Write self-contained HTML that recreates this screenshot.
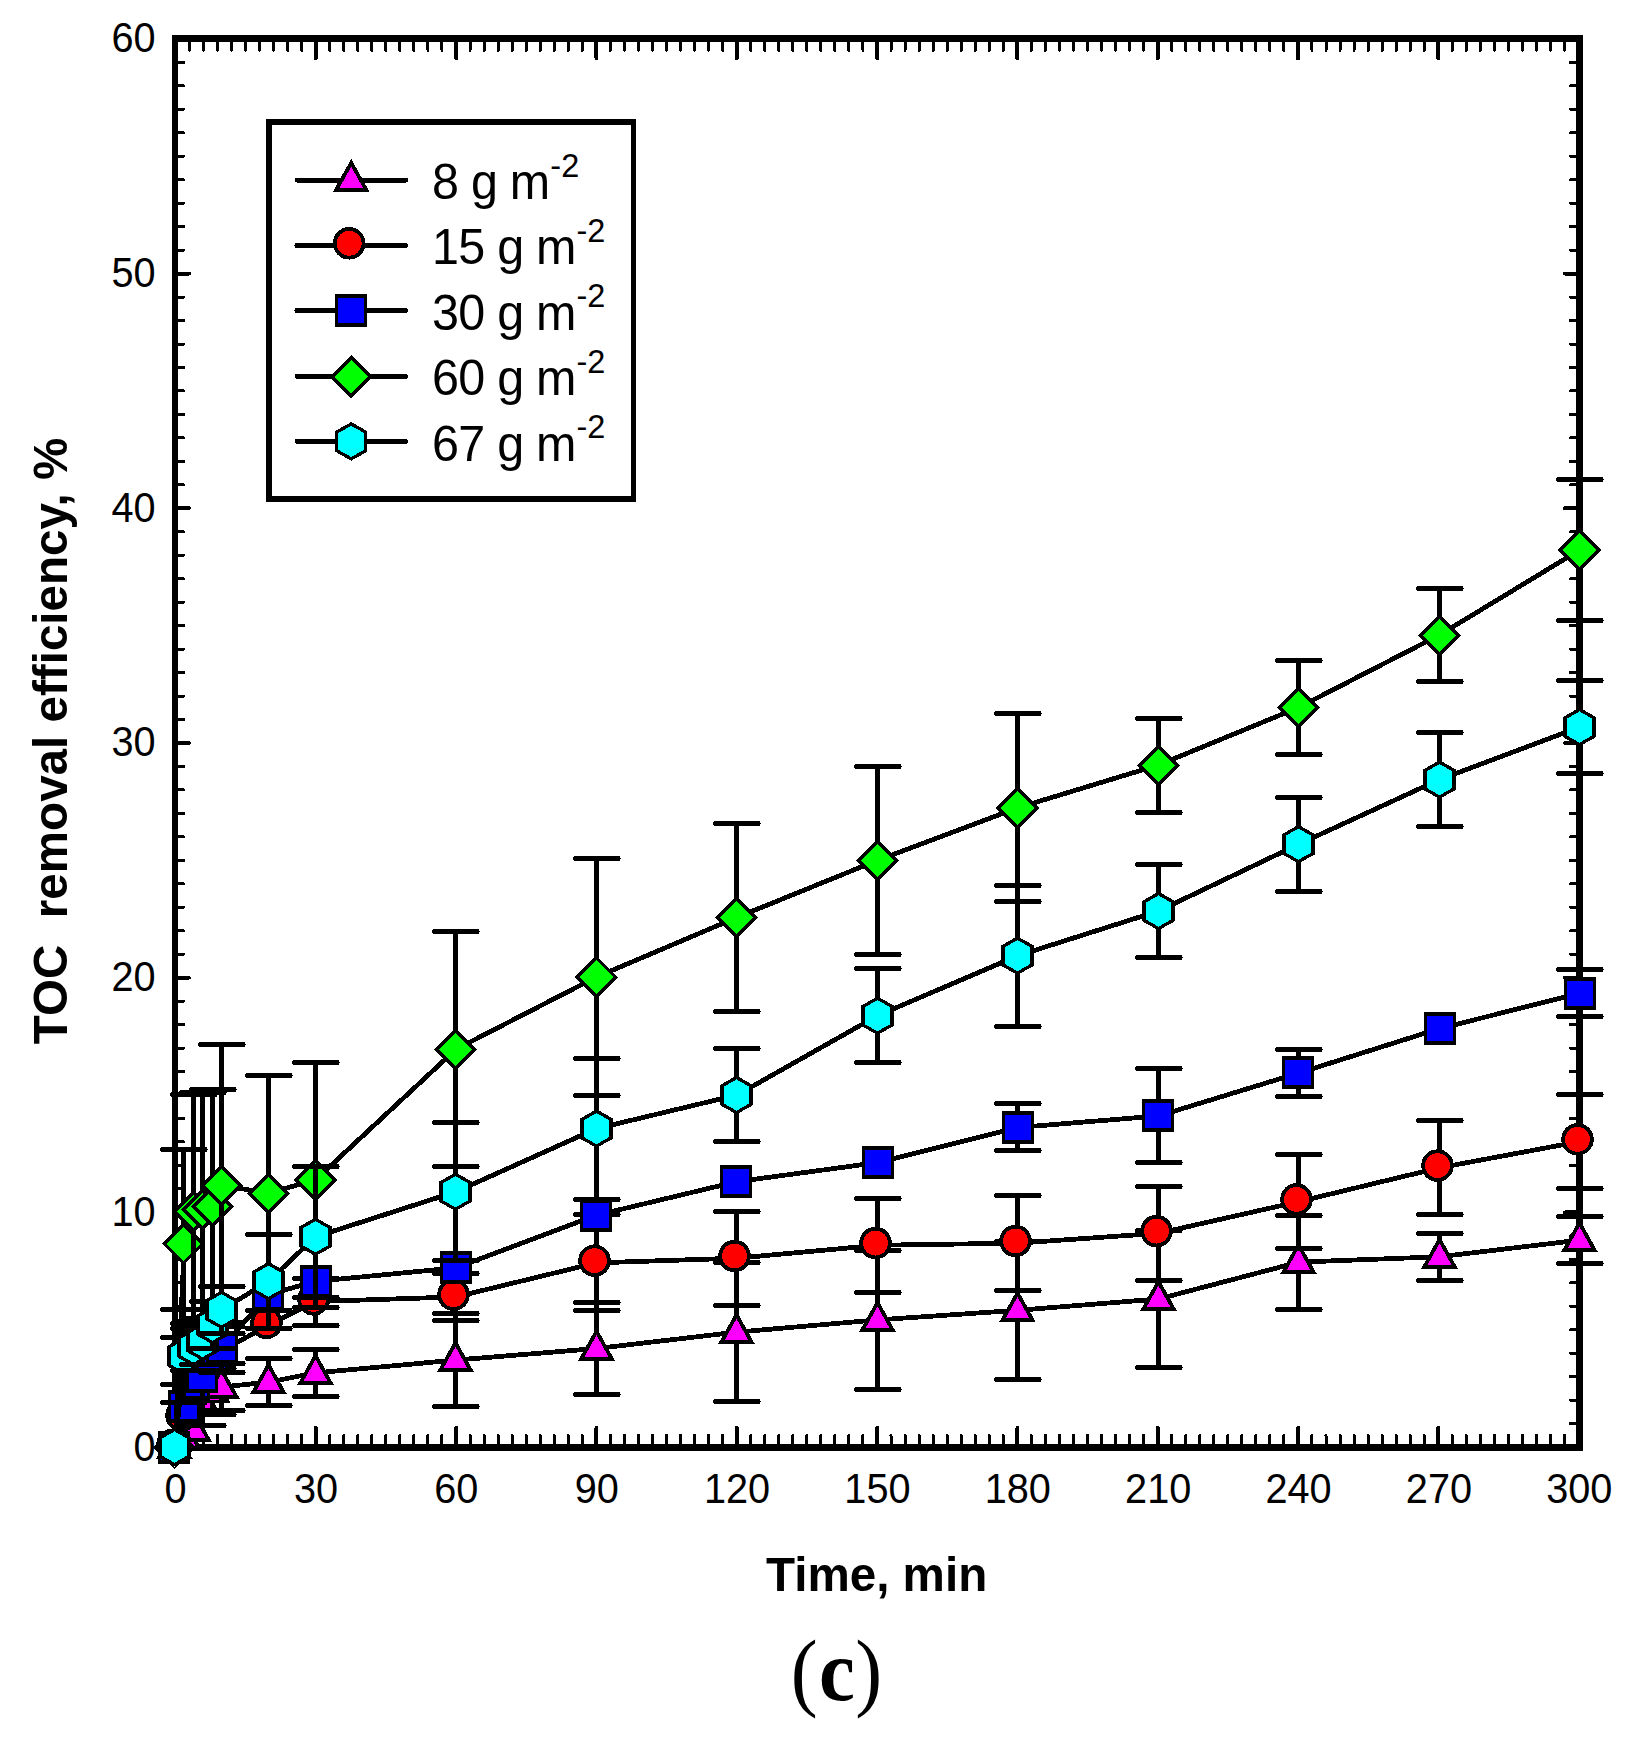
<!DOCTYPE html>
<html lang="en"><head><meta charset="utf-8"><title>TOC removal efficiency</title>
<style>html,body{margin:0;padding:0;background:#fff}body{width:1634px;height:1740px;overflow:hidden}svg{display:block}text{font-family:"Liberation Sans",Arial,Helvetica,sans-serif;fill:#000}.tk{font-size:39.7px}.ax{font-size:47.6px;font-weight:bold}.lg{font-size:48.5px;letter-spacing:-0.75px}.sup{font-size:32.5px;letter-spacing:0}.cap{font-family:"Liberation Serif","DejaVu Serif",serif}</style></head><body>
<svg width="1634" height="1740" viewBox="0 0 1634 1740" shape-rendering="crispEdges">
<rect width="1634" height="1740" fill="#fff"/>
<g fill="#000">
<rect x="172" y="35" width="6" height="1416"/>
<rect x="172" y="35" width="1411" height="7"/>
<rect x="1576" y="35" width="7" height="1416"/>
<rect x="172" y="1444" width="1411" height="7"/>
</g>
<g stroke="#000" stroke-linecap="round" fill="none"><path stroke-width="3" d="M189.4 1444V1435.5M189.4 42V50.3M203.43 1444V1435.5M203.43 42V50.3M217.47 1444V1435.5M217.47 42V50.3M231.5 1444V1435.5M231.5 42V50.3M245.53 1444V1435.5M245.53 42V50.3M259.56 1444V1435.5M259.56 42V50.3M273.6 1444V1435.5M273.6 42V50.3M287.63 1444V1435.5M287.63 42V50.3M301.66 1444V1435.5M301.66 42V50.3M329.72 1444V1435.5M329.72 42V50.3M343.76 1444V1435.5M343.76 42V50.3M357.79 1444V1435.5M357.79 42V50.3M371.82 1444V1435.5M371.82 42V50.3M385.85 1444V1435.5M385.85 42V50.3M399.89 1444V1435.5M399.89 42V50.3M413.92 1444V1435.5M413.92 42V50.3M427.95 1444V1435.5M427.95 42V50.3M441.98 1444V1435.5M441.98 42V50.3M470.05 1444V1435.5M470.05 42V50.3M484.08 1444V1435.5M484.08 42V50.3M498.11 1444V1435.5M498.11 42V50.3M512.14 1444V1435.5M512.14 42V50.3M526.17 1444V1435.5M526.17 42V50.3M540.21 1444V1435.5M540.21 42V50.3M554.24 1444V1435.5M554.24 42V50.3M568.27 1444V1435.5M568.27 42V50.3M582.3 1444V1435.5M582.3 42V50.3M610.37 1444V1435.5M610.37 42V50.3M624.4 1444V1435.5M624.4 42V50.3M638.43 1444V1435.5M638.43 42V50.3M652.46 1444V1435.5M652.46 42V50.3M666.5 1444V1435.5M666.5 42V50.3M680.53 1444V1435.5M680.53 42V50.3M694.56 1444V1435.5M694.56 42V50.3M708.59 1444V1435.5M708.59 42V50.3M722.63 1444V1435.5M722.63 42V50.3M750.69 1444V1435.5M750.69 42V50.3M764.72 1444V1435.5M764.72 42V50.3M778.75 1444V1435.5M778.75 42V50.3M792.79 1444V1435.5M792.79 42V50.3M806.82 1444V1435.5M806.82 42V50.3M820.85 1444V1435.5M820.85 42V50.3M834.88 1444V1435.5M834.88 42V50.3M848.92 1444V1435.5M848.92 42V50.3M862.95 1444V1435.5M862.95 42V50.3M891.01 1444V1435.5M891.01 42V50.3M905.04 1444V1435.5M905.04 42V50.3M919.08 1444V1435.5M919.08 42V50.3M933.11 1444V1435.5M933.11 42V50.3M947.14 1444V1435.5M947.14 42V50.3M961.17 1444V1435.5M961.17 42V50.3M975.21 1444V1435.5M975.21 42V50.3M989.24 1444V1435.5M989.24 42V50.3M1003.27 1444V1435.5M1003.27 42V50.3M1031.33 1444V1435.5M1031.33 42V50.3M1045.37 1444V1435.5M1045.37 42V50.3M1059.4 1444V1435.5M1059.4 42V50.3M1073.43 1444V1435.5M1073.43 42V50.3M1087.46 1444V1435.5M1087.46 42V50.3M1101.5 1444V1435.5M1101.5 42V50.3M1115.53 1444V1435.5M1115.53 42V50.3M1129.56 1444V1435.5M1129.56 42V50.3M1143.59 1444V1435.5M1143.59 42V50.3M1171.66 1444V1435.5M1171.66 42V50.3M1185.69 1444V1435.5M1185.69 42V50.3M1199.72 1444V1435.5M1199.72 42V50.3M1213.75 1444V1435.5M1213.75 42V50.3M1227.78 1444V1435.5M1227.78 42V50.3M1241.82 1444V1435.5M1241.82 42V50.3M1255.85 1444V1435.5M1255.85 42V50.3M1269.88 1444V1435.5M1269.88 42V50.3M1283.91 1444V1435.5M1283.91 42V50.3M1311.98 1444V1435.5M1311.98 42V50.3M1326.01 1444V1435.5M1326.01 42V50.3M1340.04 1444V1435.5M1340.04 42V50.3M1354.07 1444V1435.5M1354.07 42V50.3M1368.11 1444V1435.5M1368.11 42V50.3M1382.14 1444V1435.5M1382.14 42V50.3M1396.17 1444V1435.5M1396.17 42V50.3M1410.2 1444V1435.5M1410.2 42V50.3M1424.24 1444V1435.5M1424.24 42V50.3M1452.3 1444V1435.5M1452.3 42V50.3M1466.33 1444V1435.5M1466.33 42V50.3M1480.36 1444V1435.5M1480.36 42V50.3M1494.4 1444V1435.5M1494.4 42V50.3M1508.43 1444V1435.5M1508.43 42V50.3M1522.46 1444V1435.5M1522.46 42V50.3M1536.49 1444V1435.5M1536.49 42V50.3M1550.53 1444V1435.5M1550.53 42V50.3M1564.56 1444V1435.5M1564.56 42V50.3M178 1423.63H183.6M1576 1423.63H1570.4M178 1400.16H183.6M1576 1400.16H1570.4M178 1376.69H183.6M1576 1376.69H1570.4M178 1353.22H183.6M1576 1353.22H1570.4M178 1329.75H183.6M1576 1329.75H1570.4M178 1306.28H183.6M1576 1306.28H1570.4M178 1282.81H183.6M1576 1282.81H1570.4M178 1259.34H183.6M1576 1259.34H1570.4M178 1235.87H183.6M1576 1235.87H1570.4M178 1188.93H183.6M1576 1188.93H1570.4M178 1165.46H183.6M1576 1165.46H1570.4M178 1141.99H183.6M1576 1141.99H1570.4M178 1118.52H183.6M1576 1118.52H1570.4M178 1095.05H183.6M1576 1095.05H1570.4M178 1071.58H183.6M1576 1071.58H1570.4M178 1048.11H183.6M1576 1048.11H1570.4M178 1024.64H183.6M1576 1024.64H1570.4M178 1001.17H183.6M1576 1001.17H1570.4M178 954.23H183.6M1576 954.23H1570.4M178 930.76H183.6M1576 930.76H1570.4M178 907.29H183.6M1576 907.29H1570.4M178 883.82H183.6M1576 883.82H1570.4M178 860.35H183.6M1576 860.35H1570.4M178 836.88H183.6M1576 836.88H1570.4M178 813.41H183.6M1576 813.41H1570.4M178 789.94H183.6M1576 789.94H1570.4M178 766.47H183.6M1576 766.47H1570.4M178 719.53H183.6M1576 719.53H1570.4M178 696.06H183.6M1576 696.06H1570.4M178 672.59H183.6M1576 672.59H1570.4M178 649.12H183.6M1576 649.12H1570.4M178 625.65H183.6M1576 625.65H1570.4M178 602.18H183.6M1576 602.18H1570.4M178 578.71H183.6M1576 578.71H1570.4M178 555.24H183.6M1576 555.24H1570.4M178 531.77H183.6M1576 531.77H1570.4M178 484.83H183.6M1576 484.83H1570.4M178 461.36H183.6M1576 461.36H1570.4M178 437.89H183.6M1576 437.89H1570.4M178 414.42H183.6M1576 414.42H1570.4M178 390.95H183.6M1576 390.95H1570.4M178 367.48H183.6M1576 367.48H1570.4M178 344.01H183.6M1576 344.01H1570.4M178 320.54H183.6M1576 320.54H1570.4M178 297.07H183.6M1576 297.07H1570.4M178 250.13H183.6M1576 250.13H1570.4M178 226.66H183.6M1576 226.66H1570.4M178 203.19H183.6M1576 203.19H1570.4M178 179.72H183.6M1576 179.72H1570.4M178 156.25H183.6M1576 156.25H1570.4M178 132.78H183.6M1576 132.78H1570.4M178 109.31H183.6M1576 109.31H1570.4M178 85.84H183.6M1576 85.84H1570.4M178 62.37H183.6M1576 62.37H1570.4"/><path stroke-width="4" d="M315.79 1444V1427.9M315.79 42V58.2M456.11 1444V1427.9M456.11 42V58.2M596.44 1444V1427.9M596.44 42V58.2M736.76 1444V1427.9M736.76 42V58.2M877.08 1444V1427.9M877.08 42V58.2M1017.4 1444V1427.9M1017.4 42V58.2M1157.72 1444V1427.9M1157.72 42V58.2M1298.05 1444V1427.9M1298.05 42V58.2M1438.37 1444V1427.9M1438.37 42V58.2M178 1212.4H188.9M1576 1212.4H1565.1M178 977.7H188.9M1576 977.7H1565.1M178 743H188.9M1576 743H1565.1M178 508.3H188.9M1576 508.3H1565.1M178 273.6H188.9M1576 273.6H1565.1"/></g>
<g class="tk" text-anchor="middle">
<text transform="translate(175.6 1502.7) scale(1 1.075)">0</text>
<text transform="translate(315.97 1502.7) scale(1 1.075)">30</text>
<text transform="translate(456.34 1502.7) scale(1 1.075)">60</text>
<text transform="translate(596.71 1502.7) scale(1 1.075)">90</text>
<text transform="translate(737.08 1502.7) scale(1 1.075)">120</text>
<text transform="translate(877.45 1502.7) scale(1 1.075)">150</text>
<text transform="translate(1017.82 1502.7) scale(1 1.075)">180</text>
<text transform="translate(1158.19 1502.7) scale(1 1.075)">210</text>
<text transform="translate(1298.56 1502.7) scale(1 1.075)">240</text>
<text transform="translate(1438.93 1502.7) scale(1 1.075)">270</text>
<text transform="translate(1579.3 1502.7) scale(1 1.075)">300</text>
</g>
<g class="tk" text-anchor="end">
<text transform="translate(155.7 1460.5) scale(1 1.075)">0</text>
<text transform="translate(155.7 1225.8) scale(1 1.075)">10</text>
<text transform="translate(155.7 991.1) scale(1 1.075)">20</text>
<text transform="translate(155.7 756.4) scale(1 1.075)">30</text>
<text transform="translate(155.7 521.7) scale(1 1.075)">40</text>
<text transform="translate(155.7 287) scale(1 1.075)">50</text>
<text transform="translate(155.7 52.3) scale(1 1.075)">60</text>
</g>
<text class="ax" text-anchor="middle" transform="translate(876.6 1590.9) scale(1 1.02)">Time, min</text>
<text class="ax" text-anchor="middle" transform="translate(67.2 741) rotate(-90) scale(1 1.02)" xml:space="preserve" style="white-space:pre">TOC  removal efficiency, %</text>
<g font-size="86" transform="scale(0.94 1)">
<text class="cap" x="841.28" y="1700">(</text>
<text class="cap" x="871.28" y="1700" font-weight="bold">c</text>
<text class="cap" x="909.79" y="1700">)</text>
</g>
<g stroke="#000" stroke-width="3.5" stroke-linejoin="miter">
<polyline points="175,1447.1 184.37,1437.48 193.73,1429.73 203.1,1402.51 212.46,1391.48 221.83,1387.02 268.66,1382.09 315.49,1372.93 455.98,1360.03 596.47,1348.53 736.96,1332.1 877.45,1319.89 1017.94,1310.27 1158.43,1299 1298.92,1262.16 1439.41,1256.76 1579.9,1240.09" fill="none" stroke-width="4.8" stroke-linejoin="round"/>
<polygon points="174.5,1429.9 189.7,1457.2 159.3,1457.2" fill="#ff00ff" stroke-width="3.8"/>
<polygon points="183.5,1420.28 198.7,1447.58 168.3,1447.58" fill="#ff00ff" stroke-width="3.8"/>
<polygon points="193.5,1412.53 208.7,1439.83 178.3,1439.83" fill="#ff00ff" stroke-width="3.8"/>
<path d="M202.5 1379.5V1402.5M181.4 1379.5H224.1" fill="none" stroke-width="5" stroke-linecap="round"/>
<polygon points="202.5,1385.31 217.7,1412.61 187.3,1412.61" fill="#ff00ff" stroke-width="3.8"/>
<path d="M212.5 1368.5V1414.5M191.4 1368.5H234.1M191.4 1414.5H234.1" fill="none" stroke-width="5" stroke-linecap="round"/>
<polygon points="212.5,1374.28 227.7,1401.58 197.3,1401.58" fill="#ff00ff" stroke-width="3.8"/>
<path d="M221.5 1363.5V1410.5M200.4 1363.5H243.1M200.4 1410.5H243.1" fill="none" stroke-width="5" stroke-linecap="round"/>
<polygon points="221.5,1369.82 236.7,1397.12 206.3,1397.12" fill="#ff00ff" stroke-width="3.8"/>
<path d="M268.5 1358.5V1405.5M247.4 1358.5H290.1M247.4 1405.5H290.1" fill="none" stroke-width="5" stroke-linecap="round"/>
<polygon points="268.5,1364.89 283.7,1392.19 253.3,1392.19" fill="#ff00ff" stroke-width="3.8"/>
<path d="M315.5 1349.5V1396.5M294.4 1349.5H337.1M294.4 1396.5H337.1" fill="none" stroke-width="5" stroke-linecap="round"/>
<polygon points="315.5,1355.73 330.7,1383.03 300.3,1383.03" fill="#ff00ff" stroke-width="3.8"/>
<path d="M455.5 1313.5V1406.5M434.4 1313.5H477.1M434.4 1406.5H477.1" fill="none" stroke-width="5" stroke-linecap="round"/>
<polygon points="455.5,1342.83 470.7,1370.13 440.3,1370.13" fill="#ff00ff" stroke-width="3.8"/>
<path d="M596.5 1302.5V1394.5M575.4 1302.5H618.1M575.4 1394.5H618.1" fill="none" stroke-width="5" stroke-linecap="round"/>
<polygon points="596.5,1331.33 611.7,1358.63 581.3,1358.63" fill="#ff00ff" stroke-width="3.8"/>
<path d="M736.5 1262.5V1401.5M715.4 1262.5H758.1M715.4 1401.5H758.1" fill="none" stroke-width="5" stroke-linecap="round"/>
<polygon points="736.5,1314.9 751.7,1342.2 721.3,1342.2" fill="#ff00ff" stroke-width="3.8"/>
<path d="M877.5 1250.5V1389.5M856.4 1250.5H899.1M856.4 1389.5H899.1" fill="none" stroke-width="5" stroke-linecap="round"/>
<polygon points="877.5,1302.69 892.7,1329.99 862.3,1329.99" fill="#ff00ff" stroke-width="3.8"/>
<path d="M1017.5 1241.5V1379.5M996.4 1241.5H1039.1M996.4 1379.5H1039.1" fill="none" stroke-width="5" stroke-linecap="round"/>
<polygon points="1017.5,1293.07 1032.7,1320.37 1002.3,1320.37" fill="#ff00ff" stroke-width="3.8"/>
<path d="M1158.5 1230.5V1367.5M1137.4 1230.5H1180.1M1137.4 1367.5H1180.1" fill="none" stroke-width="5" stroke-linecap="round"/>
<polygon points="1158.5,1281.8 1173.7,1309.1 1143.3,1309.1" fill="#ff00ff" stroke-width="3.8"/>
<path d="M1298.5 1215.5V1309.5M1277.4 1215.5H1320.1M1277.4 1309.5H1320.1" fill="none" stroke-width="5" stroke-linecap="round"/>
<polygon points="1298.5,1244.96 1313.7,1272.26 1283.3,1272.26" fill="#ff00ff" stroke-width="3.8"/>
<path d="M1439.5 1233.5V1280.5M1418.4 1233.5H1461.1M1418.4 1280.5H1461.1" fill="none" stroke-width="5" stroke-linecap="round"/>
<polygon points="1439.5,1239.56 1454.7,1266.86 1424.3,1266.86" fill="#ff00ff" stroke-width="3.8"/>
<path d="M1579.5 1216.5V1263.5M1558.4 1216.5H1601.1M1558.4 1263.5H1601.1" fill="none" stroke-width="5" stroke-linecap="round"/>
<polygon points="1579.5,1222.89 1594.7,1250.19 1564.3,1250.19" fill="#ff00ff" stroke-width="3.8"/>
</g>
<g stroke="#000" stroke-width="3.5" stroke-linejoin="miter">
<polyline points="175,1447.1 184.37,1417.76 193.73,1390.77 203.1,1379.04 212.46,1360.26 221.83,1350.87 268.66,1325.06 315.49,1301.59 455.98,1296.89 596.47,1262.86 736.96,1258.17 877.45,1245.26 1017.94,1243.15 1158.43,1233.29 1298.92,1201.6 1439.41,1167.81 1579.9,1141.52" fill="none" stroke-width="4.8" stroke-linejoin="round"/>
<circle cx="172.5" cy="1444.9" r="14.35" fill="#ff0000" stroke-width="3.8"/>
<circle cx="181.5" cy="1415.56" r="14.35" fill="#ff0000" stroke-width="3.8"/>
<circle cx="191.5" cy="1388.57" r="14.35" fill="#ff0000" stroke-width="3.8"/>
<circle cx="200.5" cy="1376.84" r="14.35" fill="#ff0000" stroke-width="3.8"/>
<circle cx="210.5" cy="1358.06" r="14.35" fill="#ff0000" stroke-width="3.8"/>
<circle cx="219.5" cy="1348.67" r="14.35" fill="#ff0000" stroke-width="3.8"/>
<circle cx="266.5" cy="1322.86" r="14.35" fill="#ff0000" stroke-width="3.8"/>
<path d="M315.5 1278.5V1325.5M294.4 1278.5H337.1M294.4 1325.5H337.1" fill="none" stroke-width="5" stroke-linecap="round"/>
<circle cx="313.5" cy="1299.39" r="14.35" fill="#ff0000" stroke-width="3.8"/>
<path d="M455.5 1273.5V1320.5M434.4 1273.5H477.1M434.4 1320.5H477.1" fill="none" stroke-width="5" stroke-linecap="round"/>
<circle cx="453.5" cy="1294.69" r="14.35" fill="#ff0000" stroke-width="3.8"/>
<path d="M596.5 1214.5V1310.5M575.4 1214.5H618.1M575.4 1310.5H618.1" fill="none" stroke-width="5" stroke-linecap="round"/>
<circle cx="594.5" cy="1260.66" r="14.35" fill="#ff0000" stroke-width="3.8"/>
<path d="M736.5 1211.5V1305.5M715.4 1211.5H758.1M715.4 1305.5H758.1" fill="none" stroke-width="5" stroke-linecap="round"/>
<circle cx="734.5" cy="1255.97" r="14.35" fill="#ff0000" stroke-width="3.8"/>
<path d="M877.5 1198.5V1292.5M856.4 1198.5H899.1M856.4 1292.5H899.1" fill="none" stroke-width="5" stroke-linecap="round"/>
<circle cx="875.5" cy="1243.06" r="14.35" fill="#ff0000" stroke-width="3.8"/>
<path d="M1017.5 1195.5V1290.5M996.4 1195.5H1039.1M996.4 1290.5H1039.1" fill="none" stroke-width="5" stroke-linecap="round"/>
<circle cx="1015.5" cy="1240.95" r="14.35" fill="#ff0000" stroke-width="3.8"/>
<path d="M1158.5 1186.5V1280.5M1137.4 1186.5H1180.1M1137.4 1280.5H1180.1" fill="none" stroke-width="5" stroke-linecap="round"/>
<circle cx="1156.5" cy="1231.09" r="14.35" fill="#ff0000" stroke-width="3.8"/>
<path d="M1298.5 1154.5V1248.5M1277.4 1154.5H1320.1M1277.4 1248.5H1320.1" fill="none" stroke-width="5" stroke-linecap="round"/>
<circle cx="1296.5" cy="1199.4" r="14.35" fill="#ff0000" stroke-width="3.8"/>
<path d="M1439.5 1120.5V1214.5M1418.4 1120.5H1461.1M1418.4 1214.5H1461.1" fill="none" stroke-width="5" stroke-linecap="round"/>
<circle cx="1437.5" cy="1165.61" r="14.35" fill="#ff0000" stroke-width="3.8"/>
<path d="M1579.5 1094.5V1188.5M1558.4 1094.5H1601.1M1558.4 1188.5H1601.1" fill="none" stroke-width="5" stroke-linecap="round"/>
<circle cx="1577.5" cy="1139.32" r="14.35" fill="#ff0000" stroke-width="3.8"/>
</g>
<g stroke="#000" stroke-width="3.5" stroke-linejoin="miter">
<polyline points="175,1447.1 184.37,1406.03 193.73,1383.73 203.1,1376.69 212.46,1355.57 221.83,1347.35 268.66,1294.54 315.49,1281.4 455.98,1267.79 596.47,1215.22 736.96,1181.65 877.45,1162.64 1017.94,1127.44 1158.43,1115.94 1298.92,1072.99 1439.41,1028.63 1579.9,993.19" fill="none" stroke-width="4.8" stroke-linejoin="round"/>
<rect x="158" y="1431" width="32" height="33" fill="#000" stroke="none"/><rect x="161" y="1435" width="26" height="25" fill="#0000ff" stroke="none"/>
<path d="M183.5 1384.5V1406.5M162.4 1384.5H205.1" fill="none" stroke-width="5" stroke-linecap="round"/>
<rect x="168" y="1390" width="32" height="33" fill="#000" stroke="none"/><rect x="171" y="1394" width="26" height="25" fill="#0000ff" stroke="none"/>
<rect x="178" y="1367" width="32" height="33" fill="#000" stroke="none"/><rect x="181" y="1371" width="26" height="25" fill="#0000ff" stroke="none"/>
<path d="M202.5 1376.5V1425.5M181.4 1425.5H224.1" fill="none" stroke-width="5" stroke-linecap="round"/>
<rect x="186" y="1360" width="32" height="33" fill="#000" stroke="none"/><rect x="189" y="1364" width="26" height="25" fill="#0000ff" stroke="none"/>
<rect x="196" y="1339" width="32" height="33" fill="#000" stroke="none"/><rect x="199" y="1343" width="26" height="25" fill="#0000ff" stroke="none"/>
<path d="M221.5 1322.5V1372.5M200.4 1322.5H243.1M200.4 1372.5H243.1" fill="none" stroke-width="5" stroke-linecap="round"/>
<rect x="206" y="1331" width="32" height="33" fill="#000" stroke="none"/><rect x="209" y="1335" width="26" height="25" fill="#0000ff" stroke="none"/>
<rect x="252" y="1278" width="32" height="33" fill="#000" stroke="none"/><rect x="255" y="1282" width="26" height="25" fill="#0000ff" stroke="none"/>
<rect x="300" y="1265" width="32" height="33" fill="#000" stroke="none"/><rect x="303" y="1269" width="26" height="25" fill="#0000ff" stroke="none"/>
<rect x="440" y="1251" width="32" height="33" fill="#000" stroke="none"/><rect x="443" y="1255" width="26" height="25" fill="#0000ff" stroke="none"/>
<rect x="580" y="1199" width="32" height="33" fill="#000" stroke="none"/><rect x="583" y="1203" width="26" height="25" fill="#0000ff" stroke="none"/>
<rect x="720" y="1165" width="32" height="33" fill="#000" stroke="none"/><rect x="723" y="1169" width="26" height="25" fill="#0000ff" stroke="none"/>
<rect x="862" y="1146" width="32" height="33" fill="#000" stroke="none"/><rect x="865" y="1150" width="26" height="25" fill="#0000ff" stroke="none"/>
<path d="M1017.5 1103.5V1150.5M996.4 1103.5H1039.1M996.4 1150.5H1039.1" fill="none" stroke-width="5" stroke-linecap="round"/>
<rect x="1002" y="1111" width="32" height="33" fill="#000" stroke="none"/><rect x="1005" y="1115" width="26" height="25" fill="#0000ff" stroke="none"/>
<path d="M1158.5 1068.5V1162.5M1137.4 1068.5H1180.1M1137.4 1162.5H1180.1" fill="none" stroke-width="5" stroke-linecap="round"/>
<rect x="1142" y="1099" width="32" height="33" fill="#000" stroke="none"/><rect x="1145" y="1103" width="26" height="25" fill="#0000ff" stroke="none"/>
<path d="M1298.5 1049.5V1096.5M1277.4 1049.5H1320.1M1277.4 1096.5H1320.1" fill="none" stroke-width="5" stroke-linecap="round"/>
<rect x="1282" y="1056" width="32" height="33" fill="#000" stroke="none"/><rect x="1285" y="1060" width="26" height="25" fill="#0000ff" stroke="none"/>
<rect x="1424" y="1012" width="32" height="33" fill="#000" stroke="none"/><rect x="1427" y="1016" width="26" height="25" fill="#0000ff" stroke="none"/>
<path d="M1579.5 969.5V1016.5M1558.4 969.5H1601.1M1558.4 1016.5H1601.1" fill="none" stroke-width="5" stroke-linecap="round"/>
<rect x="1564" y="977" width="32" height="33" fill="#000" stroke="none"/><rect x="1567" y="981" width="26" height="25" fill="#0000ff" stroke="none"/>
</g>
<g stroke="#000" stroke-width="3.5" stroke-linejoin="miter">
<polyline points="175,1447.1 184.37,1243.62 193.73,1211.46 203.1,1209.58 212.46,1206.53 221.83,1185.41 268.66,1193.15 315.49,1179.78 455.98,1049.28 596.47,977 736.96,917.38 877.45,860.35 1017.94,807.78 1158.43,765.06 1298.92,707.33 1439.41,635.04 1579.9,549.84" fill="none" stroke-width="4.8" stroke-linejoin="round"/>
<polygon points="174.5,1428.1 193.7,1447.3 174.5,1466.5 155.3,1447.3" fill="#00ff00"/>
<path d="M183.5 1149.5V1337.5M162.4 1149.5H205.1M162.4 1337.5H205.1" fill="none" stroke-width="5" stroke-linecap="round"/>
<polygon points="183.5,1224.62 202.7,1243.82 183.5,1263.02 164.3,1243.82" fill="#00ff00"/>
<path d="M193.5 1094.5V1328.5M172.4 1094.5H215.1M172.4 1328.5H215.1" fill="none" stroke-width="5" stroke-linecap="round"/>
<polygon points="193.5,1192.46 212.7,1211.66 193.5,1230.86 174.3,1211.66" fill="#00ff00"/>
<path d="M202.5 1092.5V1326.5M181.4 1092.5H224.1M181.4 1326.5H224.1" fill="none" stroke-width="5" stroke-linecap="round"/>
<polygon points="202.5,1190.58 221.7,1209.78 202.5,1228.98 183.3,1209.78" fill="#00ff00"/>
<path d="M212.5 1089.5V1323.5M191.4 1089.5H234.1M191.4 1323.5H234.1" fill="none" stroke-width="5" stroke-linecap="round"/>
<polygon points="212.5,1187.53 231.7,1206.73 212.5,1225.93 193.3,1206.73" fill="#00ff00"/>
<path d="M221.5 1044.5V1326.5M200.4 1044.5H243.1M200.4 1326.5H243.1" fill="none" stroke-width="5" stroke-linecap="round"/>
<polygon points="221.5,1166.41 240.7,1185.61 221.5,1204.81 202.3,1185.61" fill="#00ff00"/>
<path d="M268.5 1075.5V1310.5M247.4 1075.5H290.1M247.4 1310.5H290.1" fill="none" stroke-width="5" stroke-linecap="round"/>
<polygon points="268.5,1174.15 287.7,1193.35 268.5,1212.55 249.3,1193.35" fill="#00ff00"/>
<path d="M315.5 1062.5V1297.5M294.4 1062.5H337.1M294.4 1297.5H337.1" fill="none" stroke-width="5" stroke-linecap="round"/>
<polygon points="315.5,1160.78 334.7,1179.98 315.5,1199.18 296.3,1179.98" fill="#00ff00"/>
<path d="M455.5 931.5V1166.5M434.4 931.5H477.1M434.4 1166.5H477.1" fill="none" stroke-width="5" stroke-linecap="round"/>
<polygon points="455.5,1030.28 474.7,1049.48 455.5,1068.68 436.3,1049.48" fill="#00ff00"/>
<path d="M596.5 858.5V1095.5M575.4 858.5H618.1M575.4 1095.5H618.1" fill="none" stroke-width="5" stroke-linecap="round"/>
<polygon points="596.5,958 615.7,977.2 596.5,996.4 577.3,977.2" fill="#00ff00"/>
<path d="M736.5 823.5V1011.5M715.4 823.5H758.1M715.4 1011.5H758.1" fill="none" stroke-width="5" stroke-linecap="round"/>
<polygon points="736.5,898.38 755.7,917.58 736.5,936.78 717.3,917.58" fill="#00ff00"/>
<path d="M877.5 766.5V954.5M856.4 766.5H899.1M856.4 954.5H899.1" fill="none" stroke-width="5" stroke-linecap="round"/>
<polygon points="877.5,841.35 896.7,860.55 877.5,879.75 858.3,860.55" fill="#00ff00"/>
<path d="M1017.5 713.5V901.5M996.4 713.5H1039.1M996.4 901.5H1039.1" fill="none" stroke-width="5" stroke-linecap="round"/>
<polygon points="1017.5,788.78 1036.7,807.98 1017.5,827.18 998.3,807.98" fill="#00ff00"/>
<path d="M1158.5 718.5V812.5M1137.4 718.5H1180.1M1137.4 812.5H1180.1" fill="none" stroke-width="5" stroke-linecap="round"/>
<polygon points="1158.5,746.06 1177.7,765.26 1158.5,784.46 1139.3,765.26" fill="#00ff00"/>
<path d="M1298.5 660.5V754.5M1277.4 660.5H1320.1M1277.4 754.5H1320.1" fill="none" stroke-width="5" stroke-linecap="round"/>
<polygon points="1298.5,688.33 1317.7,707.53 1298.5,726.73 1279.3,707.53" fill="#00ff00"/>
<path d="M1439.5 588.5V681.5M1418.4 588.5H1461.1M1418.4 681.5H1461.1" fill="none" stroke-width="5" stroke-linecap="round"/>
<polygon points="1439.5,616.04 1458.7,635.24 1439.5,654.44 1420.3,635.24" fill="#00ff00"/>
<path d="M1579.5 479.5V620.5M1558.4 479.5H1601.1M1558.4 620.5H1601.1" fill="none" stroke-width="5" stroke-linecap="round"/>
<polygon points="1579.5,530.84 1598.7,550.04 1579.5,569.24 1560.3,550.04" fill="#00ff00"/>
</g>
<g stroke="#000" stroke-width="3.5" stroke-linejoin="miter">
<polyline points="175,1447.1 184.37,1356.04 193.73,1347.12 203.1,1341.48 212.46,1325.06 221.83,1309.8 268.66,1281.17 315.49,1236.81 455.98,1191.75 596.47,1128.61 736.96,1095.05 877.45,1015.72 1017.94,955.64 1158.43,911.05 1298.92,844.16 1439.41,779.61 1579.9,727.04" fill="none" stroke-width="4.8" stroke-linejoin="round"/>
<polygon points="174.5,1429.6 189,1437.8 189,1456.4 174.5,1464.6 160,1456.4 160,1437.8" fill="#00ffff" stroke-width="3.3"/>
<path d="M183.5 1309.5V1402.5M162.4 1309.5H205.1M162.4 1402.5H205.1" fill="none" stroke-width="5" stroke-linecap="round"/>
<polygon points="183.5,1338.54 198,1346.74 198,1365.34 183.5,1373.54 169,1365.34 169,1346.74" fill="#00ffff" stroke-width="3.3"/>
<path d="M193.5 1323.5V1370.5M172.4 1323.5H215.1M172.4 1370.5H215.1" fill="none" stroke-width="5" stroke-linecap="round"/>
<polygon points="193.5,1329.62 208,1337.82 208,1356.42 193.5,1364.62 179,1356.42 179,1337.82" fill="#00ffff" stroke-width="3.3"/>
<path d="M202.5 1318.5V1364.5M181.4 1318.5H224.1M181.4 1364.5H224.1" fill="none" stroke-width="5" stroke-linecap="round"/>
<polygon points="202.5,1323.98 217,1332.18 217,1350.78 202.5,1358.98 188,1350.78 188,1332.18" fill="#00ffff" stroke-width="3.3"/>
<path d="M212.5 1301.5V1348.5M191.4 1301.5H234.1M191.4 1348.5H234.1" fill="none" stroke-width="5" stroke-linecap="round"/>
<polygon points="212.5,1307.56 227,1315.76 227,1334.36 212.5,1342.56 198,1334.36 198,1315.76" fill="#00ffff" stroke-width="3.3"/>
<path d="M221.5 1286.5V1333.5M200.4 1286.5H243.1M200.4 1333.5H243.1" fill="none" stroke-width="5" stroke-linecap="round"/>
<polygon points="221.5,1292.3 236,1300.5 236,1319.1 221.5,1327.3 207,1319.1 207,1300.5" fill="#00ffff" stroke-width="3.3"/>
<path d="M268.5 1234.5V1328.5M247.4 1234.5H290.1M247.4 1328.5H290.1" fill="none" stroke-width="5" stroke-linecap="round"/>
<polygon points="268.5,1263.67 283,1271.87 283,1290.47 268.5,1298.67 254,1290.47 254,1271.87" fill="#00ffff" stroke-width="3.3"/>
<path d="M315.5 1166.5V1307.5M294.4 1166.5H337.1M294.4 1307.5H337.1" fill="none" stroke-width="5" stroke-linecap="round"/>
<polygon points="315.5,1219.31 330,1227.51 330,1246.11 315.5,1254.31 301,1246.11 301,1227.51" fill="#00ffff" stroke-width="3.3"/>
<path d="M455.5 1122.5V1260.5M434.4 1122.5H477.1M434.4 1260.5H477.1" fill="none" stroke-width="5" stroke-linecap="round"/>
<polygon points="455.5,1174.25 470,1182.45 470,1201.05 455.5,1209.25 441,1201.05 441,1182.45" fill="#00ffff" stroke-width="3.3"/>
<path d="M596.5 1058.5V1199.5M575.4 1058.5H618.1M575.4 1199.5H618.1" fill="none" stroke-width="5" stroke-linecap="round"/>
<polygon points="596.5,1111.11 611,1119.31 611,1137.91 596.5,1146.11 582,1137.91 582,1119.31" fill="#00ffff" stroke-width="3.3"/>
<path d="M736.5 1048.5V1141.5M715.4 1048.5H758.1M715.4 1141.5H758.1" fill="none" stroke-width="5" stroke-linecap="round"/>
<polygon points="736.5,1077.55 751,1085.75 751,1104.35 736.5,1112.55 722,1104.35 722,1085.75" fill="#00ffff" stroke-width="3.3"/>
<path d="M877.5 968.5V1062.5M856.4 968.5H899.1M856.4 1062.5H899.1" fill="none" stroke-width="5" stroke-linecap="round"/>
<polygon points="877.5,998.22 892,1006.42 892,1025.02 877.5,1033.22 863,1025.02 863,1006.42" fill="#00ffff" stroke-width="3.3"/>
<path d="M1017.5 885.5V1026.5M996.4 885.5H1039.1M996.4 1026.5H1039.1" fill="none" stroke-width="5" stroke-linecap="round"/>
<polygon points="1017.5,938.14 1032,946.34 1032,964.94 1017.5,973.14 1003,964.94 1003,946.34" fill="#00ffff" stroke-width="3.3"/>
<path d="M1158.5 864.5V957.5M1137.4 864.5H1180.1M1137.4 957.5H1180.1" fill="none" stroke-width="5" stroke-linecap="round"/>
<polygon points="1158.5,893.55 1173,901.75 1173,920.35 1158.5,928.55 1144,920.35 1144,901.75" fill="#00ffff" stroke-width="3.3"/>
<path d="M1298.5 797.5V891.5M1277.4 797.5H1320.1M1277.4 891.5H1320.1" fill="none" stroke-width="5" stroke-linecap="round"/>
<polygon points="1298.5,826.66 1313,834.86 1313,853.46 1298.5,861.66 1284,853.46 1284,834.86" fill="#00ffff" stroke-width="3.3"/>
<path d="M1439.5 732.5V826.5M1418.4 732.5H1461.1M1418.4 826.5H1461.1" fill="none" stroke-width="5" stroke-linecap="round"/>
<polygon points="1439.5,762.11 1454,770.31 1454,788.91 1439.5,797.11 1425,788.91 1425,770.31" fill="#00ffff" stroke-width="3.3"/>
<path d="M1579.5 680.5V773.5M1558.4 680.5H1601.1M1558.4 773.5H1601.1" fill="none" stroke-width="5" stroke-linecap="round"/>
<polygon points="1579.5,709.54 1594,717.74 1594,736.34 1579.5,744.54 1565,736.34 1565,717.74" fill="#00ffff" stroke-width="3.3"/>
</g>
<rect x="269.1" y="121.8" width="364.5" height="377.1" fill="#fff" stroke="#000" stroke-width="5.6"/>
<line x1="297" y1="180" x2="405.5" y2="180" stroke="#000" stroke-width="5" stroke-linecap="round"/>
<g stroke="#000" stroke-width="3.5"><polygon points="351.2,162.8 366.4,190.1 336,190.1" fill="#ff00ff" stroke-width="3.8"/></g>
<text class="lg" transform="translate(432 198.7) scale(1 1.025)">8 g m<tspan class="sup" dx="0.8" dy="-21.6">-2</tspan></text>
<line x1="297" y1="245.5" x2="405.5" y2="245.5" stroke="#000" stroke-width="5" stroke-linecap="round"/>
<g stroke="#000" stroke-width="3.5"><circle cx="349.2" cy="243.3" r="14.35" fill="#ff0000" stroke-width="3.8"/></g>
<text class="lg" transform="translate(432 264.1) scale(1 1.025)">15 g m<tspan class="sup" dx="0.8" dy="-21.6">-2</tspan></text>
<line x1="297" y1="310.5" x2="405.5" y2="310.5" stroke="#000" stroke-width="5" stroke-linecap="round"/>
<g stroke="#000" stroke-width="3.5"><rect x="335" y="294" width="32" height="33" fill="#000" stroke="none"/><rect x="338" y="298" width="26" height="25" fill="#0000ff" stroke="none"/></g>
<text class="lg" transform="translate(432 329.5) scale(1 1.025)">30 g m<tspan class="sup" dx="0.8" dy="-21.6">-2</tspan></text>
<line x1="297" y1="376.4" x2="405.5" y2="376.4" stroke="#000" stroke-width="5" stroke-linecap="round"/>
<g stroke="#000" stroke-width="3.5"><polygon points="351.2,357.4 370.4,376.6 351.2,395.8 332,376.6" fill="#00ff00"/></g>
<text class="lg" transform="translate(432 395) scale(1 1.025)">60 g m<tspan class="sup" dx="0.8" dy="-21.6">-2</tspan></text>
<line x1="297" y1="441.4" x2="405.5" y2="441.4" stroke="#000" stroke-width="5" stroke-linecap="round"/>
<g stroke="#000" stroke-width="3.5"><polygon points="351.2,423.9 365.7,432.1 365.7,450.7 351.2,458.9 336.7,450.7 336.7,432.1" fill="#00ffff" stroke-width="3.3"/></g>
<text class="lg" transform="translate(432 460.5) scale(1 1.025)">67 g m<tspan class="sup" dx="0.8" dy="-21.6">-2</tspan></text>
</svg></body></html>
